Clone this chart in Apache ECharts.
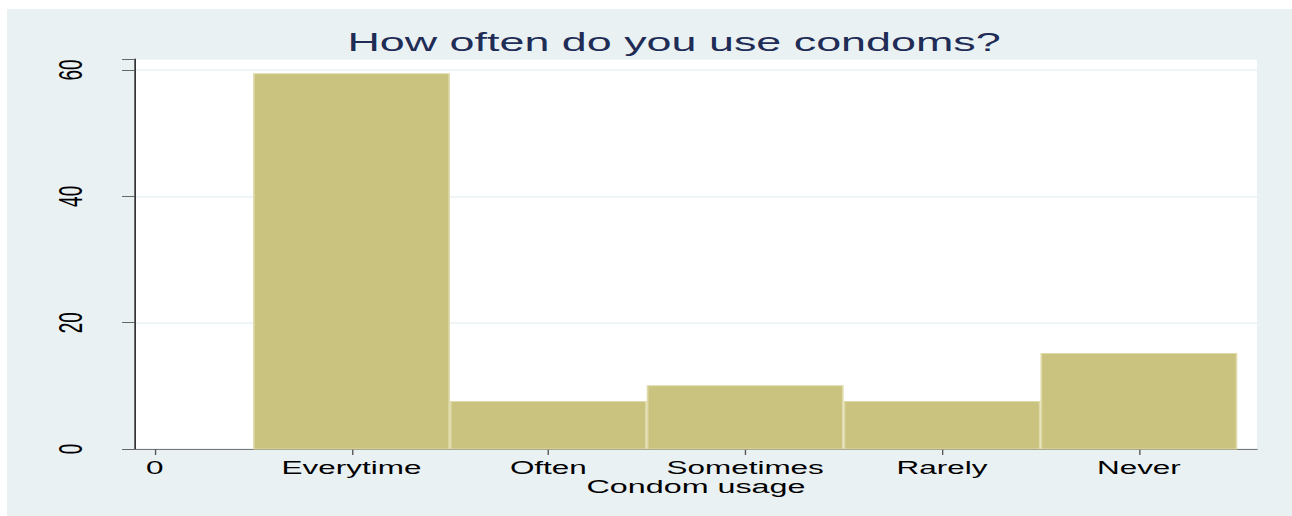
<!DOCTYPE html>
<html>
<head>
<meta charset="utf-8">
<script src="https://cdn.jsdelivr.net/npm/echarts@6/dist/echarts.min.js"></script>
<style>
  html, body { margin: 0; padding: 0; background: #ffffff; overflow: hidden; }
  #wrap { width: 1292px; height: 516px; overflow: hidden; background: #eaf1f3; }
  #chart { width: 760px; height: 516px; transform: scaleX(1.7); transform-origin: 0 0; }
</style>
</head>
<body>
<div id="wrap"><div id="chart"></div></div>
<script>
// ---- data ----
const titleText = 'How often do you use condoms?';
const xAxisTitle = 'Condom usage';
const tickLabels = ['0', 'Everytime', 'Often', 'Sometimes', 'Rarely', 'Never'];
const tickPositions = [0, 1, 2, 3, 4, 5];
const binCenters = [1, 2, 3, 4, 5];
const percents = [59.5, 7.6, 10.1, 7.6, 15.2];
const yTicks = [0, 20, 40, 60];

const FONT = 'Liberation Sans, Arial, Helvetica, sans-serif';
const chart = echarts.init(document.getElementById('chart'), null, { renderer: 'svg' });

const seriesData = binCenters.map((c, i) => [c, percents[i]]);

chart.setOption({
  animation: false,
  backgroundColor: '#ffffff',
  graphic: [{
    type: 'rect', z: -10, silent: true,
    shape: { x: 4.1, y: 9, width: 770, height: 530 },
    style: { fill: '#eaf1f3' }
  }],
  title: {
    text: titleText,
    left: 396.5, top: 29, padding: 0, textAlign: 'center',
    textStyle: { fontFamily: FONT, fontSize: 26.4, fontWeight: 'normal', color: '#1e2c56' }
  },
  grid: {
    left: 79.4, right: 20.6, top: 59, bottom: 67,
    show: true, backgroundColor: '#ffffff', borderWidth: 0
  },
  xAxis: {
    type: 'value', min: -0.1, max: 5.6,
    name: xAxisTitle, nameLocation: 'middle', nameGap: 31, nameMoveOverlap: false,
    nameTextStyle: { fontFamily: FONT, fontSize: 19, lineHeight: 14, color: '#000' },
    axisLine: { show: true, onZero: false, lineStyle: { color: '#777777', width: 1 } },
    axisTick: { show: true, customValues: tickPositions, length: 6, lineStyle: { color: '#555555', width: 0.8 } },
    axisLabel: {
      customValues: tickPositions, margin: 11.25, lineHeight: 14,
      fontFamily: FONT, fontSize: 18.5, color: '#000',
      formatter: v => tickLabels[Math.round(v)]
    },
    splitLine: { show: false }
  },
  yAxis: {
    type: 'value', min: 0, max: 61.74, interval: 20,
    axisLine: { show: true, onZero: false, lineStyle: { color: '#333333', width: 1 } },
    axisTick: { show: true, length: 7.6, lineStyle: { color: '#666666', width: 1 } },
    axisLabel: {
      rotate: 90, margin: 28,
      fontFamily: FONT, fontSize: 19, color: '#000',
      formatter: v => (yTicks.indexOf(v) >= 0 ? String(v) : '')
    },
    splitLine: { show: true, lineStyle: { color: '#eaf1f3', width: 1.5 } }
  },
  series: [{
    type: 'custom',
    data: seriesData,
    renderItem: function (params, api) {
      const x = api.value(0), y = api.value(1);
      const p0 = api.coord([x - 0.5, y]);
      const p1 = api.coord([x + 0.5, 0]);
      return {
        type: 'rect',
        shape: { x: p0[0] + 0.5, y: p0[1] + 0.5, width: p1[0] - p0[0] - 1, height: p1[1] - p0[1] - 0.5 },
        style: { fill: '#cac27f', stroke: '#dedaa9', lineWidth: 1 }
      };
    },
    z: 2
  }]
});
</script>
</body>
</html>
